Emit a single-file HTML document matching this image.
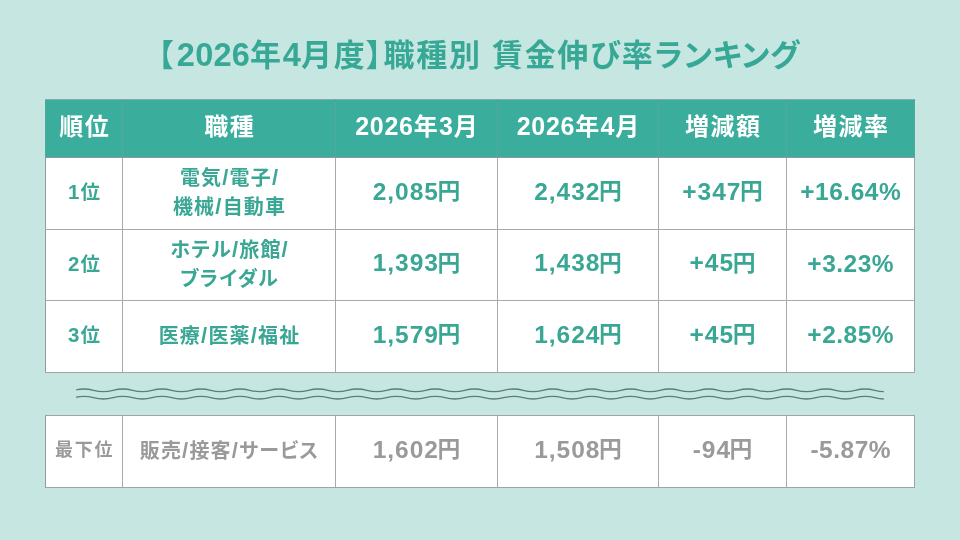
<!DOCTYPE html>
<html lang="ja">
<head>
<meta charset="utf-8">
<title>職種別 賃金伸び率ランキング</title>
<style>
html,body{margin:0;padding:0;}
body{width:960px;height:540px;overflow:hidden;background:#c6e7e1;font-family:"Liberation Sans","Noto Sans CJK JP",sans-serif;font-weight:bold;position:relative;}
.title{position:absolute;left:0;top:36px;width:960px;text-align:center;font-size:31px;line-height:40px;color:#38a896;letter-spacing:1.7px;white-space:nowrap;font-feature-settings:"palt";}
.title .b{margin-right:2px;margin-left:-2px;}
.title .k{letter-spacing:0.8px;}
.title .d{font-size:32.5px;letter-spacing:0.2px;line-height:30px;}
table{position:absolute;left:45px;border-collapse:collapse;table-layout:fixed;width:870px;background:#fff;}
td,th{box-sizing:border-box;border:1px solid #a9a9a9;padding:0;text-align:center;vertical-align:middle;font-weight:bold;}
#t1{top:99px;}
#t1 th{background:#3aad9c;color:#fff;font-size:24px;letter-spacing:1.4px;padding:0 0 8px 1.4px;height:58px;font-feature-settings:"palt";border-color:#58a59b;border-top-color:#8aa;border-bottom-color:#8a9a98;}
#t1 td{color:#3aa794;height:72px;}
#t1 tr.r2 td{height:71px;}
#t2{top:415px;}
#t2 td{color:#9a9a9a;height:72px;}
td:first-child{border-left-color:#909a98;}
td:last-child{border-right-color:#9aa6a4;}
#t1 tr:last-child td,#t2 td{border-bottom-color:#9aa6a4;}
#t2 td{border-top-color:#9aa6a4;}
td.rank{font-size:19.5px;letter-spacing:1.2px;padding:0 0 6px 1.2px;}
td.job{font-size:20px;line-height:29px;letter-spacing:1.2px;padding:0 0 1px 1.2px;font-feature-settings:"palt";}
td.job .s{font-size:22px;line-height:20px;}
td.rank .n{font-size:20.5px;}
td.num{font-size:24.5px;letter-spacing:1px;padding:0 0 7px 1px;}
td.num .y{font-size:22.8px;margin-left:-1.5px;position:relative;top:-0.5px;}
td.p{letter-spacing:0.5px;padding:0 0 3px 0.5px;}
th .n{font-size:25px;letter-spacing:0.7px;}
#t2 td.rank{font-size:18px;letter-spacing:1.8px;padding:0 0 7px 1.2px;}
svg{position:absolute;left:0;top:0;}
</style>
</head>
<body>
<div class="title"><span class="b">【</span><span class="d">2026</span>年<span class="d">4</span>月度】職種別 賃金伸び率<span class="k">ランキング</span></div>
<table id="t1">
<colgroup><col style="width:77px"><col style="width:213px"><col style="width:162px"><col style="width:161px"><col style="width:128px"><col style="width:128px"></colgroup>
<tr><th>順位</th><th>職種</th><th><span class="n">2026</span>年<span class="n">3</span>月</th><th><span class="n">2026</span>年<span class="n">4</span>月</th><th>増減額</th><th>増減率</th></tr>
<tr><td class="rank"><span class="n">1</span>位</td><td class="job">電気<span class="s">/</span>電子<span class="s">/</span><br>機械<span class="s">/</span>自動車</td><td class="num"><span class="n">2,085</span><span class="y">円</span></td><td class="num"><span class="n">2,432</span><span class="y">円</span></td><td class="num"><span class="n">+347</span><span class="y">円</span></td><td class="num p"><span class="n">+16.64%</span></td></tr>
<tr class="r2"><td class="rank"><span class="n">2</span>位</td><td class="job">ホテル<span class="s">/</span>旅館<span class="s">/</span><br>ブライダル</td><td class="num"><span class="n">1,393</span><span class="y">円</span></td><td class="num"><span class="n">1,438</span><span class="y">円</span></td><td class="num"><span class="n">+45</span><span class="y">円</span></td><td class="num p"><span class="n">+3.23%</span></td></tr>
<tr><td class="rank"><span class="n">3</span>位</td><td class="job">医療<span class="s">/</span>医薬<span class="s">/</span>福祉</td><td class="num"><span class="n">1,579</span><span class="y">円</span></td><td class="num"><span class="n">1,624</span><span class="y">円</span></td><td class="num"><span class="n">+45</span><span class="y">円</span></td><td class="num p"><span class="n">+2.85%</span></td></tr>
</table>
<svg width="960" height="540" viewBox="0 0 960 540" fill="none" stroke="#587f79" stroke-width="1.3">
<clipPath id="wc"><rect x="76.2" y="380" width="807.6" height="30"/></clipPath>
<g clip-path="url(#wc)">
<path d="M74.0,390.3 q9.765,-2.6 19.53,0 t19.53,0 t19.53,0 t19.53,0 t19.53,0 t19.53,0 t19.53,0 t19.53,0 t19.53,0 t19.53,0 t19.53,0 t19.53,0 t19.53,0 t19.53,0 t19.53,0 t19.53,0 t19.53,0 t19.53,0 t19.53,0 t19.53,0 t19.53,0 t19.53,0 t19.53,0 t19.53,0 t19.53,0 t19.53,0 t19.53,0 t19.53,0 t19.53,0 t19.53,0 t19.53,0 t19.53,0 t19.53,0 t19.53,0 t19.53,0 t19.53,0 t19.53,0 t19.53,0 t19.53,0 t19.53,0 t19.53,0 t19.53,0 t19.53,0"/>
<path d="M74.0,397.7 q9.765,-2.6 19.53,0 t19.53,0 t19.53,0 t19.53,0 t19.53,0 t19.53,0 t19.53,0 t19.53,0 t19.53,0 t19.53,0 t19.53,0 t19.53,0 t19.53,0 t19.53,0 t19.53,0 t19.53,0 t19.53,0 t19.53,0 t19.53,0 t19.53,0 t19.53,0 t19.53,0 t19.53,0 t19.53,0 t19.53,0 t19.53,0 t19.53,0 t19.53,0 t19.53,0 t19.53,0 t19.53,0 t19.53,0 t19.53,0 t19.53,0 t19.53,0 t19.53,0 t19.53,0 t19.53,0 t19.53,0 t19.53,0 t19.53,0 t19.53,0 t19.53,0"/>
</g>
</svg>
<table id="t2">
<colgroup><col style="width:77px"><col style="width:213px"><col style="width:162px"><col style="width:161px"><col style="width:128px"><col style="width:128px"></colgroup>
<tr><td class="rank">最下位</td><td class="job">販売<span class="s">/</span>接客<span class="s">/</span>サービス</td><td class="num"><span class="n">1,602</span><span class="y">円</span></td><td class="num"><span class="n">1,508</span><span class="y">円</span></td><td class="num"><span class="n">-94</span><span class="y">円</span></td><td class="num p"><span class="n">-5.87%</span></td></tr>
</table>
</body>
</html>
